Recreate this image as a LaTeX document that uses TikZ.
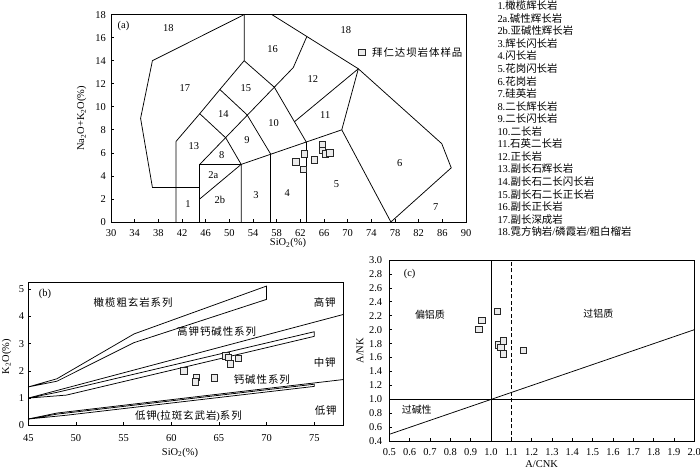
\documentclass[tikz,border=0pt]{standalone}
\usepackage{fontspec}
\setmainfont{Liberation Serif}
\newfontfamily\cjk{Noto Sans CJK SC}
\newfontfamily\cjksp[LetterSpace=9]{Noto Sans CJK SC}
\newcommand\zh[1]{{\cjk #1}}
\newcommand\zhs[1]{{\cjksp #1}}
\begin{document}
\begin{tikzpicture}[x=1bp,y=1bp]
\tikzset{
 ax/.style={line width=0.7bp},
 fl/.style={line width=0.75bp, line join=round},
 num/.style={font=\fontsize{10.5}{12}\selectfont, inner sep=0pt},
 txt/.style={font=\fontsize{10.5}{12}\selectfont, inner sep=0pt},
 zhl/.style={font=\fontsize{10.5}{12}\selectfont\cjk, inner sep=0pt},
 zhsl/.style={font=\fontsize{10.5}{12}\selectfont\cjksp, inner sep=0pt},
 zhc/.style={font=\fontsize{10}{12}\selectfont\cjk, inner sep=0pt},
 smp/.style={rectangle, draw=black!85, fill=black!8, line width=0.8bp, minimum size=6.5bp, inner sep=0pt},
}
\useasboundingbox (0,0) rectangle (700,469);

% ================= (a) TAS =================
\begin{scope}[shift={(-66.51bp,247bp)}, x=5.917bp, y=11.52bp]
\draw[ax] (30,0) rectangle (90,18);
\foreach \v in {34,38,...,86} \draw[ax] (\v,0) -- ++(0,3bp);
\foreach \v in {2,4,...,16} \draw[ax] (30,\v) -- ++(3bp,0);
\foreach \v in {30,34,...,90} \node[num, anchor=north] (ax\v) at ([yshift=-7bp]\v,0) {\v};
\foreach \v in {0,2,...,18} \node[num, anchor=east] (ay\v) at ([xshift=-5bp]30,\v) {\v};
% field boundaries
\draw[fl] (37,3) -- (35,9) -- (37,14) -- (52.5,18);
\draw[fl] (37,3) -- (45,3);
\draw[fl] (41,0) -- (41,7) -- (45,9.4) -- (48.4,11.5) -- (52.5,14) -- (52.5,18);
\draw[fl] (45,0) -- (45,5) -- (52,5);
\draw[fl] (45,2) -- (52,5);
\draw[fl] (52,0) -- (52,5) -- (69,8);
\draw[fl] (57,0) -- (57,5.88);
\draw[fl] (63,0) -- (63,6.94);
\draw[fl] (45,5) -- (60.8,13.4) -- (63.1,16.1);
\draw[fl] (45,9.4) -- (49.4,7.3) -- (52,5);
\draw[fl] (48.4,11.5) -- (53,9.3) -- (57,5.88);
\draw[fl] (52.5,14) -- (57.6,11.7) -- (63,6.94);
\draw[fl] (61,8.7) -- (71.8,13.3);
\draw[fl] (57.2,18) -- (71.8,13.3) -- (85.9,6.8) -- (87.5,4.7) -- (77.3,0);
\draw[fl] (71.8,13.3) -- (69,8) -- (77.3,0);
% field labels
\node[num] (pa) at (32.1,17.0) {(a)};
\node[num] (f18a) at (39.7,16.8) {18};
\node[num] (f18b) at (69.7,16.7) {18};
\node[num] (f17) at (42.5,11.6) {17};
\node[num] (f16) at (57.3,15.0) {16};
\node[num] (f15) at (52.8,11.6) {15};
\node[num] (f14) at (49.0,9.4) {14};
\node[num] (f13) at (44.0,6.6) {13};
\node[num] (f12) at (64.1,12.4) {12};
\node[num] (f11) at (66.2,9.3) {11};
\node[num] (f10) at (57.5,8.6) {10};
\node[num] (f9) at (53.0,7.1) {9};
\node[num] (f8) at (48.7,5.8) {8};
\node[num] (f2a) at (47.3,4.1) {2a};
\node[num] (f2b) at (48.4,1.9) {2b};
\node[num] (f1) at (43.0,1.6) {1};
\node[num] (f3) at (54.5,2.3) {3};
\node[num] (f4) at (59.8,2.5) {4};
\node[num] (f5) at (68.1,3.3) {5};
\node[num] (f6) at (78.8,5.15) {6};
\node[num] (f7) at (84.9,1.3) {7};
% samples
\node[smp] (sa1) at (61.27,5.2) {};
\node[smp] (sa2) at (62.5,4.57) {};
\node[smp] (sa3) at (62.7,5.9) {};
\node[smp] (sa4) at (64.4,5.4) {};
\node[smp] (sa5) at (65.7,6.7) {};
\node[smp] (sa6) at (65.7,6.2) {};
\node[smp] (sa7) at (66.2,5.9) {};
\node[smp] (sa8) at (67.0,6.0) {};
% legend
\node[smp] (lgs) at (72.37,14.7) {};
\node[zhsl, anchor=west] (lgt) at (74.1,14.7) {拜仁达坝岩体样品};
\end{scope}
\node[txt] (axa) at (288,226) {SiO\textsubscript{2}(\%)};
\node[txt, rotate=90] (aya) at (81.7,350.7) {Na\textsubscript{2}O+K\textsubscript{2}O(\%)};

% legend list
\foreach \n/\t [count=\i from 0] in {1/橄榄辉长岩, 2a/碱性辉长岩, 2b/亚碱性辉长岩, 3/辉长闪长岩, 4/闪长岩, 5/花岗闪长岩, 6/花岗岩, 7/硅英岩, 8/二长辉长岩, 9/二长闪长岩, 10/二长岩, 11/石英二长岩, 12/正长岩, 13/副长石辉长岩, 14/副长石二长闪长岩, 15/副长石二长正长岩, 16/副长正长岩, 17/副长深成岩}
  \node[txt, anchor=base west] (lg\i) at (497.3, 459.3-12.56*\i) {\n.\zh{\t}};
\node[txt, anchor=base west] (lg18) at (497.3, 459.3-12.56*18) {18.\zh{霓方钠岩}/\zh{磷霞岩}/\zh{粗白榴岩}};

% ================= (b) K2O-SiO2 =================
\begin{scope}[shift={(-400.7bp,43.7bp)}, x=9.533bp, y=27.2bp]
\draw[ax] (45,0) rectangle (78,5.25);
\foreach \v in {50,55,...,75} \draw[ax] (\v,0) -- ++(0,3bp);
\foreach \v in {1,...,5} \draw[ax] (45,\v) -- ++(3bp,0);
\foreach \v in {45,50,...,75} \node[num, anchor=north] (bx\v) at ([yshift=-9bp]\v,0) {\v};
\foreach \v in {0,...,5} \node[num, anchor=east] (by\v) at ([xshift=-4bp]45,\v) {\v};
% series boundaries
\draw[fl] (45,1.41) -- (48,1.71) -- (56.1,3.36) -- (70,5.12) -- (70,4.63) -- (56.1,3.04) -- (48,1.62) -- cycle;
\draw[fl] (45,1.0) -- (78,4.07);
\draw[fl] (45,1.0) -- (48,1.21) -- (75,3.44) -- (75,3.27) -- (49,1.11) -- cycle;
\draw[fl] (45,0.23) -- (48,0.45) -- (78,1.68);
\draw[fl] (45,0.23) -- (48,0.41) -- (75,1.51) -- (75,1.43) -- (49,0.37) -- cycle;
% labels
\node[num] (pb) at (46.75,4.83) {(b)};
\node[zhsl] (lb1) at (56.0,4.51) {橄榄粗玄岩系列};
\node[zhsl] (lb2) at (76.1,4.52) {高钾};
\node[zhsl] (lb3) at (64.76,3.44) {高钾钙碱性系列};
\node[zhsl] (lb4) at (76.1,2.3) {中钾};
\node[zhsl] (lb5) at (69.5,1.70) {钙碱性系列};
\node[txt] (lb6) at (61.8,0.34) {\zhs{低钾}(\zhs{拉斑玄武岩})\zhs{系列}};
\node[zhsl] (lb7) at (76.2,0.56) {低钾};
% samples
\node[smp] (sb1) at (61.33,2.0) {};
\node[smp] (sb2) at (62.66,1.76) {};
\node[smp] (sb3) at (62.55,1.6) {};
\node[smp] (sb4) at (64.5,1.75) {};
\node[smp] (sb5) at (65.73,2.56) {};
\node[smp] (sb6) at (65.98,2.5) {};
\node[smp] (sb7) at (66.22,2.25) {};
\node[smp] (sb8) at (67.03,2.46) {};
\end{scope}
\node[txt] (axb) at (180,16.3) {SiO\textsubscript{2}(\%)};
\node[txt, rotate=90] (ayb) at (6.5,112.3) {K\textsubscript{2}O(\%)};

% ================= (c) A/NK - A/CNK =================
\begin{scope}[shift={(287.65bp,-0.2bp)}, x=203.3bp, y=69.74bp]
\draw[ax] (0.5,0.4) rectangle (2.0,3.0);
\foreach \v in {0.6,0.7,0.8,0.9,1.0,1.1,1.2,1.3,1.4,1.5,1.6,1.7,1.8,1.9} \draw[ax] (\v,0.4) -- ++(0,3bp);
\foreach \v in {0.6,0.8,1.0,1.2,1.4,1.6,1.8,2.0,2.2,2.4,2.6,2.8} \draw[ax] (0.5,\v) -- ++(3bp,0);
\foreach \v [count=\i] in {0.5,0.6,0.7,0.8,0.9,1.0,1.1,1.2,1.3,1.4,1.5,1.6,1.7,1.8,1.9,2.0}
  \node[num, anchor=north] (cx\i) at ([yshift=-7bp]\v,0.4) {\v};
\foreach \v [count=\i] in {0.4,0.6,0.8,1.0,1.2,1.4,1.6,1.8,2.0,2.2,2.4,2.6,2.8,3.0}
  \node[num, anchor=east] (cy\i) at ([xshift=-7bp]0.5,\v) {\v};
\draw[fl] (1.0,0.4) -- (1.0,3.0);
\draw[fl, dash pattern=on 4bp off 2.5bp] (1.1,0.4) -- (1.1,3.0);
\draw[fl] (0.5,1.0) -- (2.0,1.0);
\draw[fl] (0.5,0.5) -- (2.0,2.0);
\node[num] (pc) at (0.6,2.8) {(c)};
\node[zhc] (lc1) at (0.70,2.21) {偏铝质};
\node[zhc] (lc2) at (1.528,2.235) {过铝质};
\node[zhc] (lc3) at (0.635,0.85) {过碱性};
\node[smp] (sc1) at (0.94,2.006) {};
\node[smp] (sc2) at (0.956,2.13) {};
\node[smp] (sc3) at (1.031,2.26) {};
\node[smp] (sc4) at (1.036,1.78) {};
\node[smp] (sc5) at (1.061,1.838) {};
\node[smp] (sc6) at (1.05,1.748) {};
\node[smp] (sc7) at (1.061,1.652) {};
\node[smp] (sc8) at (1.159,1.70) {};
\end{scope}
\node[txt, anchor=south] (axc) at (541.7,0.8) {A/CNK};
\node[txt, rotate=90] (ayc) at (360,118.3) {A/NK};
\end{tikzpicture}
\end{document}
